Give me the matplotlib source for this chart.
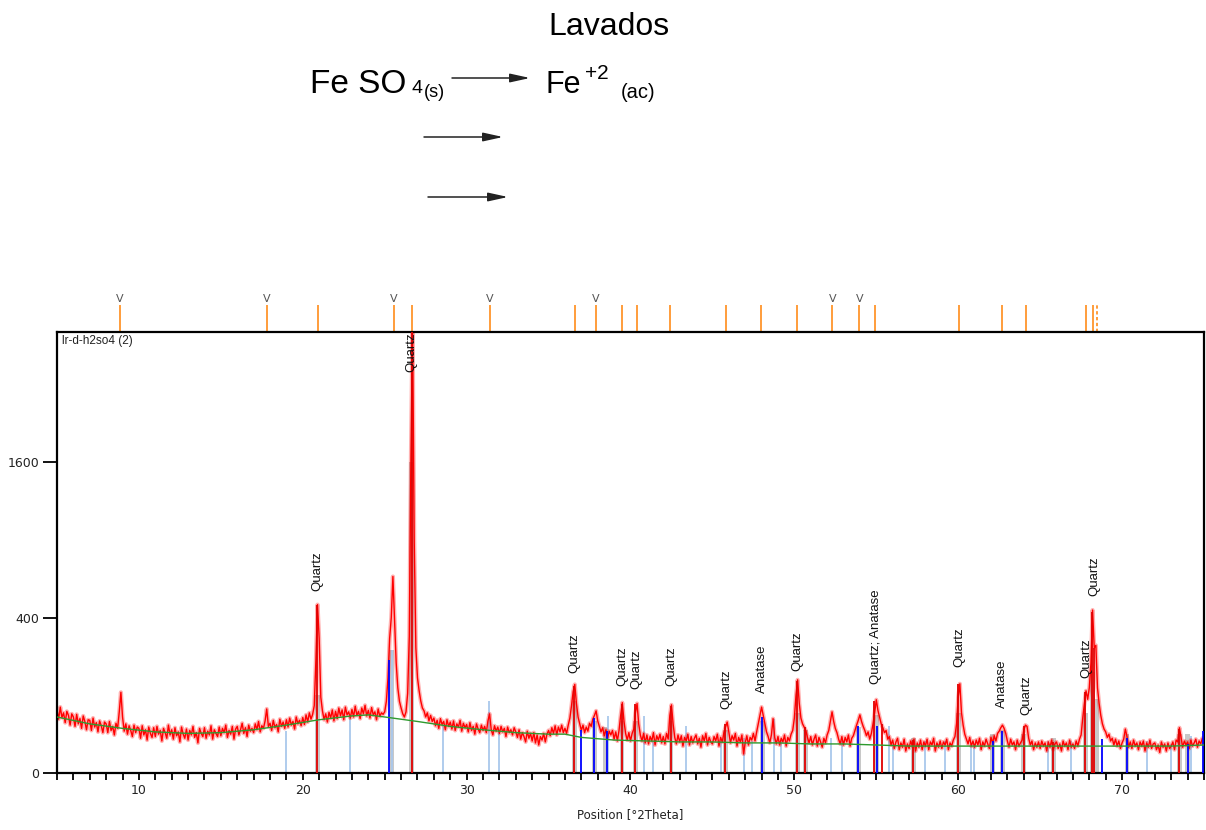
import numpy as np
import matplotlib
matplotlib.use('Agg')
import matplotlib.pyplot as plt
from matplotlib.ticker import MultipleLocator, FixedLocator

plt.rcParams['font.family'] = 'DejaVu Sans'

# scan: counts every 0.1 deg 2theta from 5.0 to 75.0
start_deg = 5.0; step_deg = 0.1
counts = [
    66, 48, 72, 51, 60, 42, 63, 55, 38, 58,   # 5
    52, 36, 57, 40, 49, 33, 54, 44, 31, 47,   # 6
    46, 30, 50, 35, 42, 28, 45, 37, 27, 43,   # 7
    40, 27, 44, 30, 36, 24, 41, 33, 62, 108,  # 8
    52, 29, 40, 25, 37, 30, 22, 38, 27, 35,   # 9
    33, 20, 37, 24, 31, 18, 35, 26, 21, 34,   # 10
    22, 36, 25, 30, 17, 33, 27, 20, 38, 24,   # 11
    31, 19, 34, 23, 28, 16, 35, 25, 20, 32,   # 12
    18, 30, 24, 36, 21, 27, 15, 33, 26, 22,   # 13
    34, 20, 29, 24, 37, 19, 31, 26, 22, 35,   # 14
    23, 33, 27, 38, 21, 30, 25, 36, 19, 32,   # 15
    36, 24, 31, 41, 26, 34, 22, 38, 29, 33,   # 16
    27, 40, 31, 44, 28, 37, 33, 45, 68, 36,   # 17
    41, 30, 46, 34, 39, 28, 48, 36, 43, 33,   # 18
    47, 35, 50, 38, 44, 32, 52, 40, 46, 37,   # 19
    51, 39, 56, 43, 60, 48, 57, 75, 210, 470, # 20
    300, 95, 64, 47, 58, 43, 61, 50, 66, 45,  # 21
    63, 49, 70, 54, 66, 47, 72, 56, 62, 50,   # 22
    67, 52, 74, 55, 63, 49, 70, 58, 76, 54,   # 23
    65, 50, 71, 56, 62, 47, 68, 53, 60, 57,   # 24
    62, 85, 150, 300, 400, 640, 390, 200, 120, 85,   # 25
    70, 58, 52, 62, 105, 310, 1650, 3400, 900, 260,  # 26
    150, 112, 86, 70, 64, 52, 60, 45, 55, 44, # 27
    50, 37, 46, 33, 49, 39, 44, 31, 47, 36,   # 28
    43, 32, 45, 30, 40, 35, 46, 29, 41, 34,   # 29
    39, 28, 42, 30, 36, 25, 40, 32, 27, 38,   # 30
    30, 36, 27, 45, 58, 31, 24, 37, 29, 35,   # 31
    26, 36, 28, 33, 22, 35, 27, 31, 24, 34,   # 32
    28, 21, 31, 19, 27, 22, 16, 29, 20, 26,   # 33
    17, 27, 15, 24, 13, 22, 18, 26, 16, 25,   # 34
    30, 23, 34, 26, 37, 24, 35, 28, 38, 27,   # 35
    33, 26, 38, 50, 75, 110, 130, 80, 52, 40, # 36
    30, 38, 27, 35, 29, 41, 36, 48, 55, 64,   # 37
    45, 36, 28, 34, 23, 31, 20, 29, 24, 30,   # 38
    19, 28, 17, 30, 55, 82, 45, 26, 18, 27,   # 39
    17, 26, 32, 60, 80, 40, 24, 17, 26, 15,   # 40
    24, 14, 22, 17, 27, 13, 23, 18, 25, 15,   # 41
    22, 14, 26, 19, 55, 77, 40, 21, 14, 24,   # 42
    16, 23, 12, 21, 17, 25, 13, 22, 15, 20,   # 43
    24, 14, 20, 11, 23, 17, 26, 13, 21, 16,   # 44
    14, 22, 17, 25, 12, 21, 16, 27, 35, 43,   # 45
    28, 15, 23, 18, 26, 12, 21, 16, 24, 6,    # 46
    15, 23, 13, 21, 18, 26, 17, 28, 40, 55,   # 47
    72, 55, 40, 28, 22, 15, 24, 49, 21, 14,   # 48
    22, 13, 20, 16, 24, 12, 21, 17, 25, 30,   # 49
    50, 100, 144, 80, 50, 40, 35, 30, 21, 15, # 50
    22, 13, 19, 24, 12, 21, 16, 11, 20, 15,   # 51
    24, 30, 45, 62, 44, 33, 27, 19, 14, 22,   # 52
    13, 21, 16, 24, 12, 20, 23, 30, 38, 46,   # 53
    56, 44, 36, 30, 23, 28, 19, 26, 40, 60,   # 54
    89, 65, 52, 40, 34, 27, 30, 19, 22, 13,   # 55
    18, 10, 16, 20, 9, 15, 11, 19, 8, 14,     # 56
    10, 17, 12, 19, 8, 15, 11, 18, 9, 16,     # 57
    12, 19, 9, 16, 13, 20, 8, 15, 11, 17,     # 58
    10, 16, 13, 19, 9, 15, 12, 18, 22, 40,    # 59
    95, 132, 60, 38, 25, 19, 14, 21, 12, 17,  # 60
    11, 18, 13, 20, 9, 16, 12, 19, 14, 10,    # 61
    21, 15, 23, 17, 26, 29, 34, 38, 33, 26,   # 62
    17, 11, 19, 13, 16, 9, 18, 12, 15, 18,    # 63
    30, 38, 36, 20, 13, 17, 9, 15, 11, 16,    # 64
    10, 17, 12, 15, 8, 16, 11, 18, 9, 14,     # 65
    16, 10, 14, 8, 17, 12, 15, 9, 18, 11,     # 66
    14, 10, 17, 12, 19, 24, 50, 80, 112, 90,  # 67
    120, 200, 440, 260, 270, 120, 80, 55, 40, 32,  # 68
    28, 21, 25, 17, 20, 13, 19, 12, 17, 10,   # 69
    15, 19, 32, 22, 11, 16, 10, 18, 12, 15,   # 70
    9, 16, 12, 17, 8, 15, 11, 18, 10, 14,     # 71
    15, 9, 13, 7, 16, 11, 14, 8, 15, 10,      # 72
    12, 16, 9, 18, 16, 34, 21, 11, 17, 13,    # 73
    16, 10, 18, 12, 15, 19, 11, 17, 14, 20,   # 74
    19]                                       # 75
two_theta = start_deg + step_deg*np.arange(len(counts))

# fitted background (green)
bg_pos = [5, 7, 9, 11, 13, 15, 17, 19, 21, 23, 24, 25, 27, 29, 31, 33, 35, 36, 37, 39, 41, 43, 45,
          47, 49, 51, 53, 55, 57, 59, 61, 63, 65, 67, 69, 71, 73, 75]
bg_counts = [52, 40, 33, 28, 26, 27, 31, 38, 47, 54, 56, 52, 44, 36, 31, 27, 25, 25, 21, 18, 17, 16, 16,
             15, 15, 14, 14, 13, 12, 12, 12, 12, 12, 12, 12, 12, 12, 13]

# reference patterns
quartz_pos = [20.86, 26.64, 36.54, 39.47, 40.29, 42.45, 45.79, 50.14, 50.62, 54.87, 55.33, 57.24,
              59.96, 63.99, 65.79, 67.74, 68.14, 68.31, 73.47]
quartz_h = [470, 3300, 125, 80, 78, 75, 40, 140, 35, 85, 40, 18, 130, 36, 16, 110, 430, 260, 32]
anatase_pos = [25.28, 36.95, 37.80, 38.57, 48.05, 53.89, 55.06, 62.12, 62.69, 68.76, 70.31, 74.03, 74.95]
anatase_h = [212, 31, 50, 29, 52, 37, 37, 17, 29, 19, 20, 14, 29]
other_pos = [19.0, 22.9, 25.45, 28.55, 31.35, 32.0, 38.65, 40.85, 41.35, 43.4, 45.55, 46.95, 47.4,
             48.75, 49.2, 52.26, 52.93, 55.8, 56.05, 58.0, 59.2, 60.75, 60.95, 65.5, 66.9, 71.5,
             73.0, 74.2]
other_h = [29, 54, 250, 37, 86, 28, 54, 54, 17, 37, 17, 20, 17, 49, 17, 20, 17, 37, 14, 17, 17, 14,
           14, 17, 17, 17, 14, 23]
gray_pos = [20.88, 25.4, 26.66, 36.56, 37.8, 38.45, 39.48, 40.32, 42.47, 45.82, 48.05, 50.2, 50.7,
            53.9, 55.0, 57.25, 60.0, 62.1, 62.7, 64.0, 65.8, 67.78, 68.2, 68.42, 70.3, 73.5, 74.0]
gray_h = [100, 250, 1600, 86, 45, 35, 45, 45, 45, 30, 45, 60, 30, 35, 55, 20, 60, 25, 30, 25, 20,
          60, 170, 90, 25, 25, 25]

# peak list markers above the plot
peak_pos = [8.84, 17.79, 20.91, 25.54, 26.65, 31.4, 36.59, 37.87, 39.51, 40.37, 42.44, 45.85,
            47.99, 50.18, 52.32, 53.96, 54.94, 60.06, 62.68, 64.15, 67.8, 68.23]
dashed_pos = [68.48]
unknown_pos = [8.84, 17.79, 25.54, 31.4, 37.87, 52.32, 53.96]

# phase labels
lab_pos = [20.9, 26.65, 36.6, 39.5, 40.37, 42.5, 45.85, 48.0, 50.2, 55.0, 60.05, 62.7, 64.15, 67.8, 68.3]
lab_y = [551, 2664, 166, 126, 117, 124, 68, 107, 173, 132, 187, 70, 56, 150, 522]
lab_text = ['Quartz', 'Quartz', 'Quartz', 'Quartz', 'Quartz', 'Quartz', 'Quartz', 'Anatase', 'Quartz',
            'Quartz; Anatase', 'Quartz', 'Anatase', 'Quartz', 'Quartz', 'Quartz']

W, H = 1206, 830
fig = plt.figure(figsize=(W/100, H/100), dpi=100)

#main pattern axes
ax = fig.add_axes([57/W, 1-773/H, (1204-57)/W, (773-332)/H])
ax.set_yscale('function', functions=(lambda y: np.sqrt(np.clip(y, 0, None)), lambda y: y**2))
ax.set_xlim(5, 75); ax.set_ylim(0, 3223)

ax.bar(gray_pos, gray_h, width=0.3, color='#c8c8c8', zorder=1)
ax.vlines(other_pos, 0, other_h, colors='#a9c8ec', lw=1.3, zorder=1.5)
ax.plot(two_theta, counts, color='#ff0000', lw=3.0, alpha=0.3, zorder=2)
ax.plot(two_theta, counts, color='#ff0000', lw=1.0, zorder=2.1)
ax.vlines(quartz_pos, 0, quartz_h, colors='#e00000', lw=1.3, zorder=3)
ax.vlines(anatase_pos, 0, anatase_h, colors='#0000ff', lw=1.3, zorder=3)
ax.plot(bg_pos, bg_counts, color='#2e9a2e', lw=1.0, zorder=4)

for p, y, t in zip(lab_pos, lab_y, lab_text):
    ax.text(p, y, t, rotation=90, ha='center', va='bottom', fontsize=9.5,
            family='Liberation Sans', color='#111', zorder=5)

ax.text(0.0044, 0.98, 'lr-d-h2so4 (2)', transform=ax.transAxes, ha='left', va='center',
        fontsize=8.5, family='Liberation Sans', color='#222')

# peak markers on top
trans = ax.get_xaxis_transform()
ax.vlines(peak_pos, 1.0, 1.061, transform=trans, colors='#ff8c1a', lw=1.2, clip_on=False)
ax.vlines(dashed_pos, 1.0, 1.061, transform=trans, colors='#ff8c1a', lw=1.2, linestyles=(0, (2, 1.5)), clip_on=False)
for p in unknown_pos:
    ax.text(p, 1.075, 'V', transform=trans, ha='center', va='center', fontsize=8, color='#555')

ax.set_yticks([0, 400, 1600]); ax.set_yticklabels(['0', '400', '1600'])
ax.xaxis.set_major_locator(FixedLocator([10, 20, 30, 40, 50, 60, 70]))
ax.xaxis.set_minor_locator(MultipleLocator(1))
ax.tick_params(axis='x', which='both', direction='out', length=5, width=1.3, labelsize=9,
               labelcolor='#222', pad=3)
ax.tick_params(axis='y', which='major', direction='out', length=10, width=1.3, labelsize=9,
               labelcolor='#222', pad=3)
ax.tick_params(axis='y', which='minor', left=False)
for s in ax.spines.values():
    s.set_linewidth(1.6)
ax.set_xlabel('Position [°2Theta]', fontsize=8.5, color='#222', labelpad=8)

# header with reaction
hdr = fig.add_axes([0, 0, 1, 1], facecolor='none')
hdr.set_xlim(0, W); hdr.set_ylim(H, 0); hdr.axis('off')
hdr.text(609, 35, 'Lavados', ha='center', va='baseline', fontsize=23, family='Liberation Sans')
hdr.text(310, 93, 'Fe SO', ha='left', va='baseline', fontsize=24, family='Liberation Sans')
hdr.text(412, 93, '4', ha='left', va='baseline', fontsize=14, family='Liberation Sans')
hdr.text(424, 97, '(s)', ha='left', va='baseline', fontsize=13, family='Liberation Sans')
hdr.text(546, 93, 'Fe', ha='left', va='baseline', fontsize=22, family='Liberation Sans')
hdr.text(585, 79, '+2', ha='left', va='baseline', fontsize=15, family='Liberation Sans')
hdr.text(621, 98, '(ac)', ha='left', va='baseline', fontsize=14.5, family='Liberation Sans')
arrow_style = dict(arrowstyle='-|>,head_length=1.0,head_width=0.22', color='#222', lw=1.1,
                   mutation_scale=12, shrinkA=0, shrinkB=0)
for (x0, x1, y) in [(452, 530, 78), (424, 503, 137), (428, 508, 197)]:
    hdr.annotate('', xy=(x1, y), xytext=(x0, y), arrowprops=arrow_style)

fig.savefig('out.png', dpi=100)
